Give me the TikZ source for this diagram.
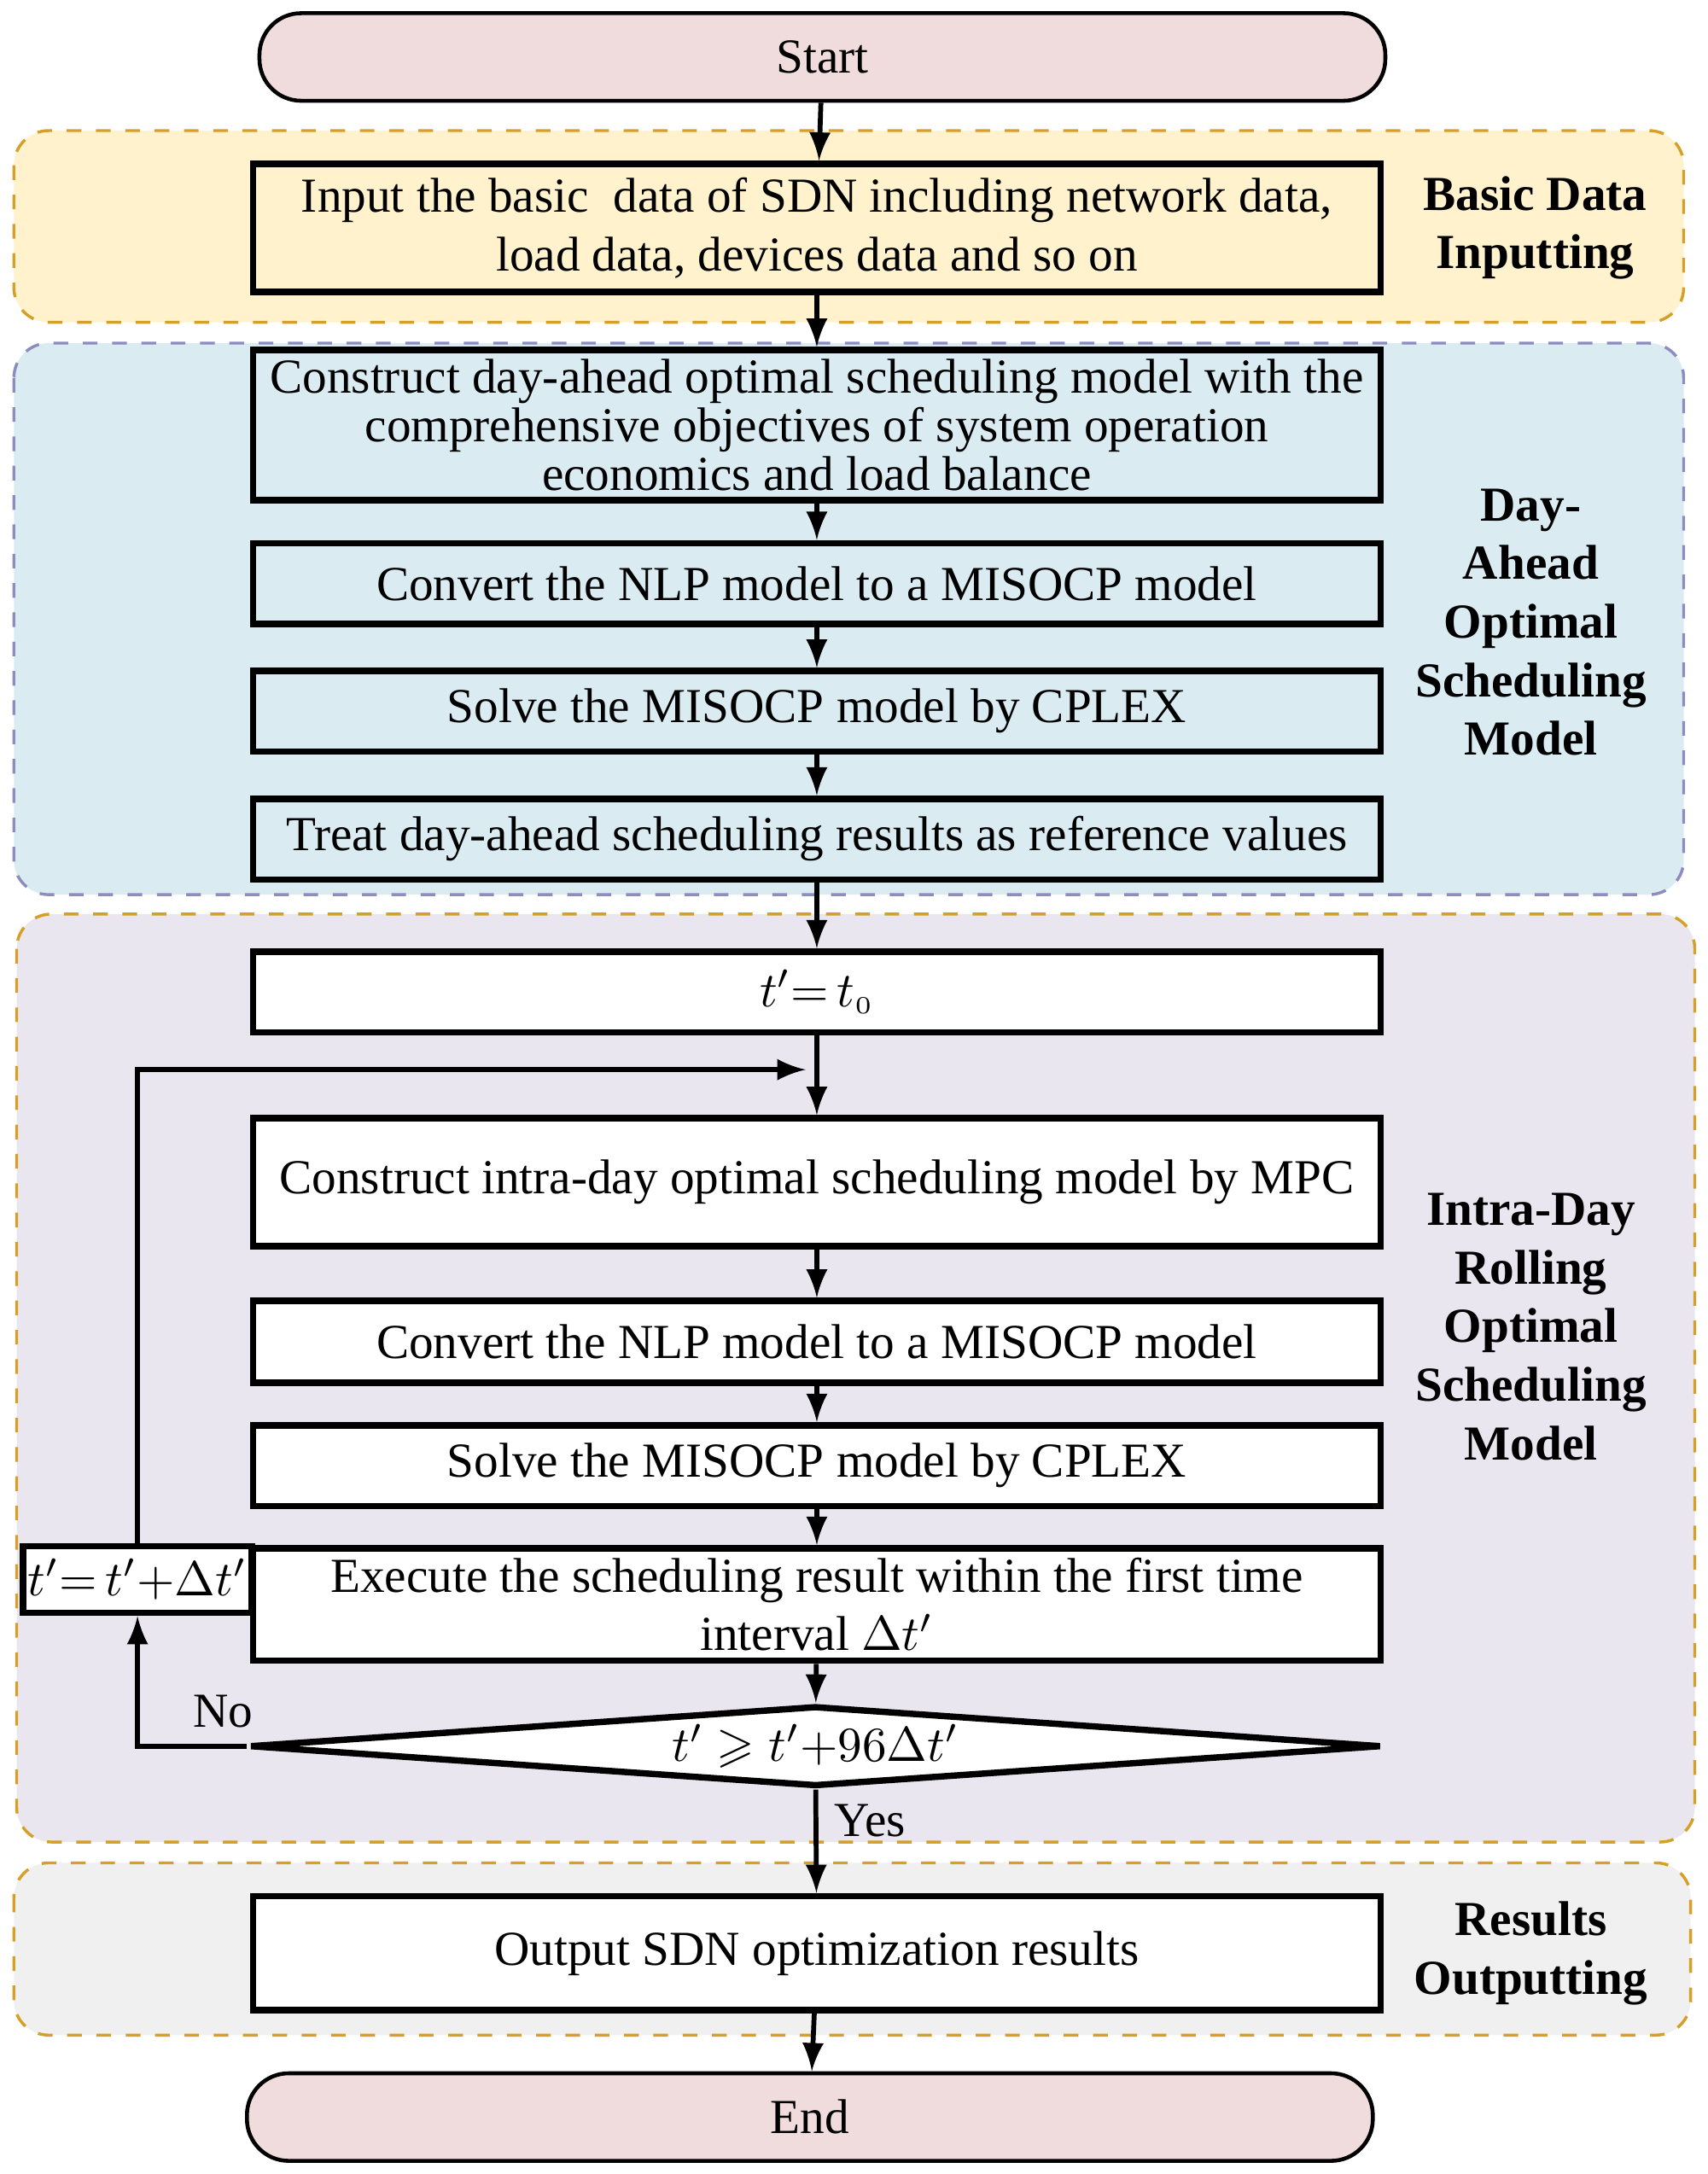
\documentclass[tikz,border=0pt]{standalone}
\usepackage{amssymb}
\usepackage{fontspec}
\setmainfont{Liberation Serif}
\usetikzlibrary{arrows,shapes.geometric}
\definecolor{termfill}{RGB}{240,220,220}
\definecolor{inputfill}{RGB}{255,242,204}
\definecolor{dayfill}{RGB}{218,236,242}
\definecolor{intrafill}{RGB}{234,230,240}
\definecolor{outfill}{RGB}{240,240,240}
\definecolor{orangeline}{RGB}{214,160,40}
\definecolor{purpleline}{RGB}{140,140,190}
\tikzset{basic/.style={draw,line width=1.3pt,text badly centered,align=center,
                       minimum width=8.11cm,inner sep=1pt}}
\tikzset{term/.style={draw,line width=0.8pt,rounded corners=0.3cm,fill=termfill,
                      minimum width=8.1cm,minimum height=0.63cm}}
\tikzset{region/.style={rounded corners=0.25cm,dashed,line width=0.6pt}}
\tikzset{stage/.style={font=\bfseries,align=center}}
\begin{document}
\begin{tikzpicture}[>=latex,x=0.01cm,y=-0.01cm,font=\fontsize{10}{12}\selectfont]
  \useasboundingbox (0,0) rectangle (1229,1565);
  % dashed stage regions behind the flow
  \draw[region,draw=orangeline,fill=inputfill] (10,94) rectangle (1212,232);
  \draw[region,draw=purpleline,fill=dayfill] (10,247) rectangle (1212,644);
  \draw[region,draw=orangeline,fill=intrafill] (12,658) rectangle (1220,1326);
  \draw[region,draw=orangeline,fill=outfill] (10,1341) rectangle (1217,1465);

  % flow elements
  \node (start) [term] at (592,41) {Start};
  \node (input) [basic,minimum height=0.92cm,fill=inputfill] at (588,164)
        {Input the basic\ \ data of SDN including network data,\\load data, devices data and so on};
  \node (dmodel) [basic,minimum height=1.08cm,fill=dayfill,font=\fontsize{10}{10}\selectfont] at (588,306)
        {Construct day-ahead optimal scheduling model with the\\comprehensive objectives of system operation\\economics and load balance};
  \node (dconv) [basic,minimum height=0.58cm,fill=dayfill] at (588,420) {Convert the NLP model to a MISOCP model};
  \node (dsolve) [basic,minimum height=0.58cm,fill=dayfill] at (588,512) {Solve the MISOCP model by CPLEX};
  \node (dtreat) [basic,minimum height=0.58cm,fill=dayfill] at (588,604) {Treat day-ahead scheduling results as reference values};
  \node (tinit) [basic,minimum height=0.58cm,fill=white] at (588,714) {$t'{=}\,t_{\scriptscriptstyle 0}$};
  \node (imodel) [basic,minimum height=0.92cm,fill=white] at (588,851) {Construct intra-day optimal scheduling model by MPC};
  \node (iconv) [basic,minimum height=0.59cm,fill=white] at (588,966) {Convert the NLP model to a MISOCP model};
  \node (isolve) [basic,minimum height=0.58cm,fill=white] at (588,1055) {Solve the MISOCP model by CPLEX};
  \node (iexec) [basic,minimum height=0.81cm,fill=white] at (588,1155)
        {Execute the scheduling result within the first time\\interval $\Delta t'$};
  \node (check) [draw,line width=1.3pt,diamond,aspect=14,inner sep=0pt,fill=white,
                 minimum width=8.14cm,minimum height=0.58cm] at (587,1257) {$t'\geqslant t'{+}96\Delta t'$};
  \node (tstep) [draw,line width=1.3pt,fill=white,minimum width=1.43cm,minimum height=0.48cm,inner sep=1pt]
        at (99,1137) {$t'{=}\,t'{+}\Delta t'$};
  \node (output) [basic,minimum height=0.82cm,fill=white] at (588,1406) {Output SDN optimization results};
  \node (end) [term] at (583,1524) {End};
  \coordinate (loop) at (580,770);

  % stage labels
  \node [stage] at (1105,164) {Basic Data\\Inputting};
  \node [stage] at (1102,448) {Day-\\Ahead\\Optimal\\Scheduling\\Model};
  \node [stage] at (1102,955) {Intra-Day\\Rolling\\Optimal\\Scheduling\\Model};
  \node [stage] at (1102,1406) {Results\\Outputting};

  % connections
  \path[->,line width=1pt]
    (start) edge (input)
    (input) edge (dmodel)
    (dmodel) edge (dconv)
    (dconv) edge (dsolve)
    (dsolve) edge (dtreat)
    (dtreat) edge (tinit)
    (tinit) edge (imodel)
    (imodel) edge (iconv)
    (iconv) edge (isolve)
    (isolve) edge (iexec)
    (iexec) edge (check)
    (check) edge node[right,pos=0.3]{Yes} (output)
    (output) edge (end);
  \draw[->,line width=1pt] (check.west) -| node[above,pos=0.3,xshift=0.3cm]{No} (tstep.south);
  \draw[->,line width=1pt] (tstep.north) |- (loop);
\end{tikzpicture}
\end{document}
